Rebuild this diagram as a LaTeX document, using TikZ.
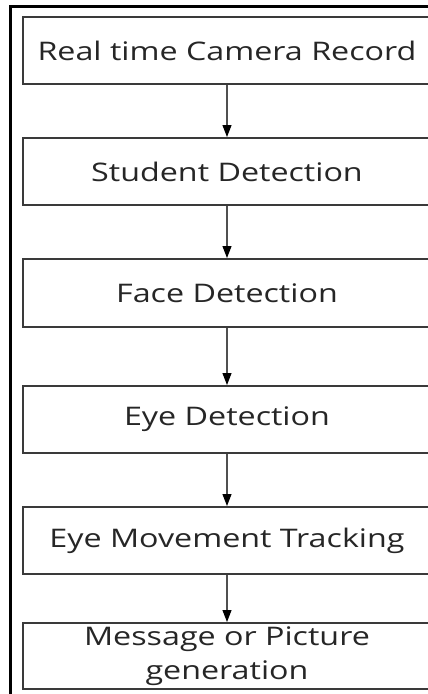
\documentclass[tikz,border=0pt]{standalone}
\usepackage{fontspec}
\setmainfont{Open Sans}[FakeStretch=1.26]
\usetikzlibrary{arrows.meta}
\definecolor{boxgray}{HTML}{3A3A3A}
\definecolor{linegray}{HTML}{505050}
\definecolor{textgray}{HTML}{262626}
\begin{document}
\begin{tikzpicture}[x=1pt,y=-1pt,
  stepbox/.style={draw=boxgray, line width=2pt, minimum width=408pt,
    inner sep=0pt, align=center, text=textgray,
    font=\fontsize{25.6}{33.5}\selectfont},
  flow/.style={draw=linegray, line width=1.1pt,
    -{Triangle[length=12pt,width=9pt,color=black]}}]
  \useasboundingbox (0,0) rectangle (428,694);
  % outer frame
  \draw[line width=3pt, black] (10,6) rectangle (450,720);
  % process steps
  \node[stepbox, minimum height=67pt] (b1) at (227,50.5) {Real time Camera Record};
  \node[stepbox, minimum height=67pt] (b2) at (227,171.5) {Student Detection};
  \node[stepbox, minimum height=68pt] (b3) at (227,293) {Face Detection};
  \node[stepbox, minimum height=67pt] (b4) at (227,419.5) {Eye Detection};
  \node[stepbox, minimum height=67pt] (b5) at (227,540.5) {Eye Movement Tracking};
  \node[stepbox, minimum height=66pt] (b6) at (227,656) {Message or Picture\\generation};
  % connectors
  \draw[flow] (b1.south) -- (b2.north);
  \draw[flow] (b2.south) -- (b3.north);
  \draw[flow] (b3.south) -- (b4.north);
  \draw[flow] (b4.south) -- (b5.north);
  \draw[flow] (b5.south) -- (b6.north);
\end{tikzpicture}
\end{document}
